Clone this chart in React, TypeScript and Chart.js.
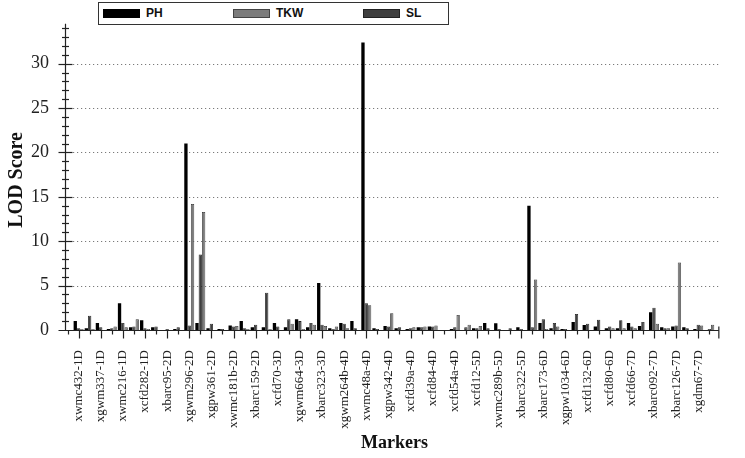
import React, { useEffect, useRef } from "react";
import { Chart, registerables } from "chart.js";

Chart.register(...registerables);

// 59 markers, every other one labelled on the axis
const markers: string[] = [
  "", "xwmc432-1D", "", "xgwm337-1D", "", "xwmc216-1D", "", "xcfd282-1D", "", "xbarc95-2D",
  "", "xgwm296-2D", "", "xgpw361-2D", "", "xwmc181b-2D", "", "xbarc159-2D", "", "xcfd70-3D",
  "", "xgwm664-3D", "", "xbarc323-3D", "", "xgwm264b-4D", "", "xwmc48a-4D", "", "xgpw342-4D",
  "", "xcfd39a-4D", "", "xcfd84-4D", "", "xcfd54a-4D", "", "xcfd12-5D", "", "xwmc289b-5D",
  "", "xbarc322-5D", "", "xbarc173-6D", "", "xgpw1034-6D", "", "xcfd132-6D", "", "xcfd80-6D",
  "", "xcfd66-7D", "", "xbarc092-7D", "", "xbarc126-7D", "", "xgdm67-7D", "",
];

const phValues: number[] = [
  0, 1.0, 0.2, 0.8, 0.1, 3.0, 0.3, 1.1, 0.3, 0,
  0.1, 21.0, 0.8, 0.2, 0.1, 0.5, 1.0, 0.3, 0.3, 0.8,
  0.3, 1.2, 0.3, 5.3, 0.2, 0.8, 1.0, 32.4, 0.2, 0.45,
  0.2, 0.1, 0.3, 0.4, 0, 0.1, 0, 0.2, 0.8, 0.75,
  0, 0.3, 14.0, 0.8, 0.2, 0.1, 0.9, 0.55, 0.4, 0.2,
  0.2, 0.8, 0.45, 2.0, 0.3, 0.4, 0.3, 0.1, 0,
];

const slValues: number[] = [
  0, 0.2, 1.6, 0.3, 0.2, 0.8, 0.4, 0.2, 0.4, 0.1,
  0.3, 0.5, 8.5, 0.7, 0.1, 0.4, 0.2, 0.6, 4.2, 0.4,
  1.2, 1.0, 0.8, 0.6, 0.1, 0.7, 0.2, 3.0, 0.1, 0.4,
  0.3, 0.2, 0.3, 0.4, 0, 0.3, 0.3, 0.2, 0.2, 0.1,
  0.2, 0.1, 0.3, 1.2, 0.8, 0.1, 1.8, 0.7, 1.15, 0.4,
  1.1, 0.4, 0.9, 2.5, 0.2, 0.5, 0.2, 0.6, 0.1,
];

const tkwValues: number[] = [
  0, 0.1, 0.1, 0, 0.4, 0.3, 1.2, 0.1, 0, 0,
  0, 14.2, 13.3, 0, 0, 0.45, 0.1, 0, 0.1, 0,
  0.7, 0.1, 0.6, 0.45, 0.4, 0.2, 0, 2.8, 0, 1.9,
  0, 0.3, 0.4, 0.5, 0, 1.7, 0.6, 0.45, 0, 0,
  0, 0, 5.7, 0.1, 0.4, 0, 0, 0, 0, 0.2,
  0.2, 0.2, 0, 0.7, 0.2, 7.6, 0, 0.5, 0.6,
];

const yTickValues: number[] = [0, 5, 10, 15, 20, 25, 30];
const gridValues: number[] = [5, 10, 15, 20, 25, 30];
const yMax = 34.5;
const yMinorTop = 34;
const xTitle = "Markers";
const yTitle = "LOD Score";

const legendItems = [
  { label: "PH", color: "#000000", border: "#000000" },
  { label: "TKW", color: "#7c7c7c", border: "#444444" },
  { label: "SL", color: "#3f3f3f", border: "#222222" },
];

const SERIF = "'Liberation Serif', 'Times New Roman', serif";
const SANS = "'Liberation Sans', Arial, sans-serif";

const axesPlugin = {
  id: "axesDecor",
  beforeDatasetsDraw(chart: any) {
    const { ctx, scales } = chart;
    const x = scales.x;
    const y = scales.y;
    const ax = x.left + 3;
    const xEnd = x.right + 4;
    ctx.save();
    ctx.strokeStyle = "#7a7a7a";
    ctx.lineWidth = 1;
    ctx.setLineDash([1.2, 2.8]);
    for (const v of gridValues) {
      const py = Math.round(y.getPixelForValue(v)) + 0.5;
      ctx.beginPath();
      ctx.moveTo(ax + 8, py);
      ctx.lineTo(xEnd, py);
      ctx.stroke();
    }
    ctx.restore();
  },
  afterDatasetsDraw(chart: any) {
    const { ctx, scales } = chart;
    const x = scales.x;
    const y = scales.y;
    const ax = Math.round(x.left + 3) + 0.5;
    const xEnd = x.right + 4;
    const y0 = Math.round(y.getPixelForValue(0)) + 0.5;
    ctx.save();
    ctx.strokeStyle = "#222";
    ctx.lineWidth = 1.2;
    // y axis
    ctx.beginPath();
    ctx.moveTo(ax, y0);
    ctx.lineTo(ax, y.top);
    ctx.stroke();
    for (let v = 1; v <= yMinorTop; v++) {
      const py = Math.round(y.getPixelForValue(v)) + 0.5;
      const major = v % 5 === 0;
      ctx.beginPath();
      ctx.moveTo(ax - (major ? 7 : 3.5), py);
      ctx.lineTo(ax + (major ? 7 : 3.5), py);
      ctx.stroke();
    }
    // x axis
    ctx.beginPath();
    ctx.moveTo(ax - 7, y0);
    ctx.lineTo(xEnd, y0);
    ctx.stroke();
    for (let i = 0; i < markers.length; i++) {
      const px = Math.round(x.getPixelForValue(i)) + 0.5;
      ctx.beginPath();
      ctx.moveTo(px, y0);
      ctx.lineTo(px, y0 + (markers[i] ? 8 : 4));
      ctx.stroke();
    }
    ctx.beginPath();
    ctx.moveTo(xEnd, y0 - 4);
    ctx.lineTo(xEnd, y0 + 8);
    ctx.stroke();

    // axis titles
    ctx.fillStyle = "#111";
    ctx.textAlign = "center";
    ctx.textBaseline = "middle";
    ctx.font = `bold 18px ${SERIF}`;
    ctx.fillText(xTitle, (x.left + x.right) / 2 + 6, 443);
    ctx.translate(17, (y.top + y.bottom) / 2 + 3);
    ctx.rotate(-Math.PI / 2);
    ctx.font = `bold 20px ${SERIF}`;
    ctx.fillText(yTitle, 0, 0);
    ctx.restore();
  },
};

export default function App() {
  const canvasRef = useRef<HTMLCanvasElement | null>(null);

  useEffect(() => {
    if (!canvasRef.current) return;
    const chart = new Chart(canvasRef.current, {
      type: "bar",
      data: {
        labels: markers,
        datasets: [
          {
            label: "PH",
            data: phValues,
            backgroundColor: "#000000",
            borderColor: "#000000",
            borderWidth: 0,
          },
          {
            label: "SL",
            data: slValues,
            backgroundColor: "#3f3f3f",
            borderColor: "#1e1e1e",
            borderWidth: 0.8,
          },
          {
            label: "TKW",
            data: tkwValues,
            backgroundColor: "#7c7c7c",
            borderColor: "#333333",
            borderWidth: 0.8,
          },
        ],
      },
      options: {
        responsive: false,
        animation: false,
        devicePixelRatio: 1,
        layout: { padding: { top: 20.5, right: 11, left: 0, bottom: 0 } },
        datasets: {
          bar: { categoryPercentage: 0.9, barPercentage: 1.0 },
        },
        plugins: {
          legend: { display: false },
          tooltip: { enabled: false },
        },
        scales: {
          x: {
            type: "category",
            offset: true,
            grid: { display: false, drawTicks: false },
            border: { display: false },
            ticks: {
              autoSkip: false,
              maxRotation: 90,
              minRotation: 90,
              padding: 20,
              color: "#222",
              font: { family: SERIF, size: 13 },
              callback: (_v: any, i: number) => markers[i],
            },
            afterFit: (s: any) => {
              s.height = 128;
            },
          },
          y: {
            min: 0,
            max: yMax,
            grid: { display: false, drawTicks: false },
            border: { display: false },
            afterBuildTicks: (s: any) => {
              s.ticks = yTickValues.map((v) => ({ value: v }));
            },
            ticks: {
              padding: 13,
              color: "#222",
              font: { family: SERIF, size: 18 },
              callback: (v: any) => String(v),
            },
            afterFit: (s: any) => {
              s.width = 62;
            },
          },
        },
      },
      plugins: [axesPlugin],
    });
    return () => chart.destroy();
  }, []);

  return (
    <div
      style={{
        position: "fixed",
        left: 0,
        top: 0,
        width: 745,
        height: 458,
        background: "#fff",
        overflow: "hidden",
      }}
    >
      <canvas ref={canvasRef} width={745} height={458} style={{ position: "absolute", left: 0, top: 0 }} />
      <div
        style={{
          position: "absolute",
          left: 98,
          top: 2,
          width: 349,
          height: 21,
          border: "1.5px solid #333",
          background: "#fff",
        }}
      >
        {legendItems.map((it, i) => (
          <div
            key={it.label}
            style={{
              position: "absolute",
              left: 4 + i * 130,
              top: 0,
              height: 21,
              display: "flex",
              alignItems: "center",
            }}
          >
            <span
              style={{
                display: "inline-block",
                width: 35,
                height: 7,
                background: it.color,
                border: `1px solid ${it.border}`,
              }}
            />
            <span
              style={{
                marginLeft: 6,
                fontFamily: SANS,
                fontWeight: "bold",
                fontSize: 12,
                color: "#111",
                lineHeight: "21px",
              }}
            >
              {it.label}
            </span>
          </div>
        ))}
      </div>
    </div>
  );
}
